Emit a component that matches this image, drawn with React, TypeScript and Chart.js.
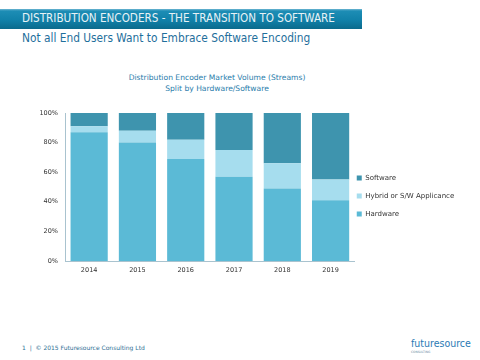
import React, { useEffect, useRef } from "react";
import { Chart, registerables } from "chart.js";

Chart.register(...registerables);

const years = ["2014", "2015", "2016", "2017", "2018", "2019"];
const hardware = [87, 80, 69, 57, 49, 41];
const hybrid = [4, 8, 13, 18, 17, 14];
const software = [9, 12, 18, 25, 34, 45];
const yTicks = [0, 20, 40, 60, 80, 100];

const FONT = "'DejaVu Sans', sans-serif";
const COND = "'DejaVu Sans Condensed', 'DejaVu Sans', sans-serif";

const shiftLegend = {
  id: "shiftLegend",
  afterLayout(chart: any) {
    const lg = chart.legend;
    if (!lg) return;
    lg.left -= 9;
    lg.right -= 9;
    lg.top -= 1;
    lg.bottom -= 1;
  },
};

function ChartBox() {
  const ref = useRef<HTMLCanvasElement>(null);
  useEffect(() => {
    if (!ref.current) return;
    const chart = new Chart(ref.current, {
      type: "bar",
      data: {
        labels: years,
        datasets: [
          { label: "Hardware", data: hardware, backgroundColor: "#5BBAD6" },
          { label: "Hybrid or S/W Applicance", data: hybrid, backgroundColor: "#A6DDEE" },
          { label: "Software", data: software, backgroundColor: "#3E94AE" },
        ],
      },
      options: {
        animation: false,
        responsive: false,
        maintainAspectRatio: false,
        datasets: { bar: { categoryPercentage: 1, barPercentage: 0.77 } },
        layout: { padding: { top: 13, bottom: 0, left: 0, right: 7 } },
        plugins: {
          title: { display: false },
          tooltip: { enabled: false },
          legend: {
            position: "right",
            reverse: true,
            labels: {
              boxWidth: 5,
              boxHeight: 5,
              padding: 11,
              color: "#333",
              font: { family: FONT, size: 7 },
            },
          },
        },
        scales: {
          x: {
            stacked: true,
            grid: { display: false, drawTicks: false },
            border: { display: true, color: "#A9C3CF", width: 1 },
            ticks: { color: "#333", font: { family: FONT, size: 6.5 }, padding: 5 },
            afterFit(s: any) {
              s.height = 20;
            },
          },
          y: {
            stacked: true,
            min: 0,
            max: 100,
            afterBuildTicks(s: any) {
              s.ticks = yTicks.map((v) => ({ value: v }));
            },
            grid: { display: false, drawTicks: false },
            border: { display: true, color: "#A9C3CF", width: 1 },
            ticks: {
              color: "#333",
              font: { family: FONT, size: 6.5 },
              padding: 7,
              callback: (v: any) => v + "%",
            },
            afterFit(s: any) {
              s.width = 65;
            },
          },
        },
      },
      plugins: [shiftLegend],
    });
    return () => chart.destroy();
  }, []);
  return (
    <canvas
      ref={ref}
      width={480}
      height={181}
      style={{ position: "absolute", left: 0, top: 100, width: 480, height: 181 }}
    />
  );
}

export default function App() {
  return (
    <div
      style={{
        position: "fixed",
        left: 0,
        top: 0,
        width: 480,
        height: 360,
        background: "#fff",
        overflow: "hidden",
        fontFamily: FONT,
      }}
    >
      <div
        style={{
          position: "absolute",
          left: 0,
          top: 9,
          width: 362,
          height: 20,
          background: "linear-gradient(#6fb6d2 0px, #1d8db5 2px, #1181a9 55%, #0b6a8c 100%)",
        }}
      />
      <div
        style={{
          position: "absolute",
          left: 22,
          top: 11,
          color: "#e8f2f6",
          fontFamily: COND,
          fontSize: 11.6,
          lineHeight: "15px",
          whiteSpace: "nowrap",
        }}
      >
        DISTRIBUTION ENCODERS - THE TRANSITION TO SOFTWARE
      </div>
      <div
        style={{
          position: "absolute",
          left: 22,
          top: 31,
          color: "#1f6f9c",
          fontFamily: COND,
          fontSize: 11.8,
          lineHeight: "15px",
          whiteSpace: "nowrap",
        }}
      >
        Not all End Users Want to Embrace Software Encoding
      </div>
      <div
        style={{
          position: "absolute",
          left: 117,
          top: 72,
          width: 200,
          textAlign: "center",
          color: "#2a7dab",
          fontSize: 7.6,
          lineHeight: "11px",
          whiteSpace: "nowrap",
        }}
      >
        Distribution Encoder Market Volume (Streams)
        <br />
        Split by Hardware/Software
      </div>
      <ChartBox />
      <div
        style={{
          position: "absolute",
          left: 22,
          top: 344,
          color: "#2f6f94",
          fontSize: 6,
          lineHeight: "8px",
          whiteSpace: "nowrap",
        }}
      >
        1 &nbsp;|&nbsp; © 2015 Futuresource Consulting Ltd
      </div>
      <div
        style={{
          position: "absolute",
          left: 411,
          top: 336,
          color: "#2a7ab4",
          fontFamily: COND,
          fontSize: 10.5,
          lineHeight: "14px",
          whiteSpace: "nowrap",
        }}
      >
        futuresource
      </div>
      <div
        style={{
          position: "absolute",
          left: 411,
          top: 350,
          color: "#6a8aa0",
          fontSize: 3,
          lineHeight: "4px",
          whiteSpace: "nowrap",
        }}
      >
        CONSULTING
      </div>
    </div>
  );
}
